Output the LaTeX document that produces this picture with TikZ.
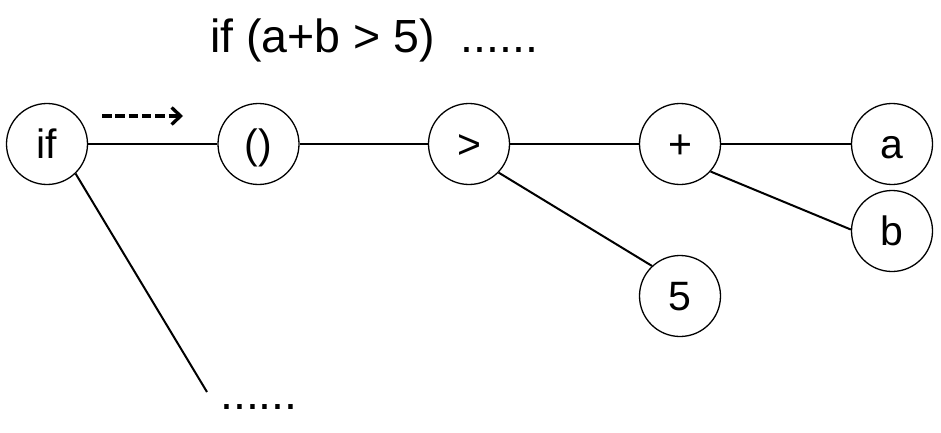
\documentclass[tikz,border=0pt]{standalone}
\usepackage{fontspec}
\setmainfont{Liberation Sans}
\usetikzlibrary{arrows.meta}
\begin{document}
\begin{tikzpicture}[x=1pt,y=-1pt,
  tnode/.style={circle,draw,line width=1.3pt,minimum size=81pt,inner sep=0pt,
    font=\fontsize{41}{45}\selectfont,text height=29pt,text depth=0pt},
  conn/.style={line width=2pt},
  bigtext/.style={inner sep=0pt,anchor=base west,font=\fontsize{46.5}{50}\selectfont}]
\useasboundingbox (0,0) rectangle (941,433);
\node[tnode] (if) at (47,144) {if};
\node[tnode] (par) at (258.5,144) {()};
\node[tnode] (gt) at (469,144) {>};
\node[tnode] (plus) at (680,144) {+};
\node[tnode] (a) at (892,144) {a};
\node[tnode] (b) at (892,231) {b};
\node[tnode] (five) at (680,296) {5};
\node[bigtext] (title) at (210,53) {if (a+b > 5)\ \ ......};
\node[bigtext] (dots) at (220,409) {......};
\coordinate (low) at (207,392);
\coordinate (arrA) at (102,116);
\coordinate (arrB) at (183,116);
\draw[conn] (if) -- (par);
\draw[conn] (par) -- (gt);
\draw[conn] (gt) -- (plus);
\draw[conn] (plus) -- (a);
\draw[conn] (gt.-44) -- (five.133);
\draw[conn] (plus.-42) -- (b.178);
\draw[conn] (if.-46) -- (low);
\draw[line width=3.3pt,dash pattern=on 9.5pt off 3.8pt,-{Straight Barb[length=9pt,width=17pt,line width=3.3pt]}] (arrA) -- (arrB);
\end{tikzpicture}
\end{document}
